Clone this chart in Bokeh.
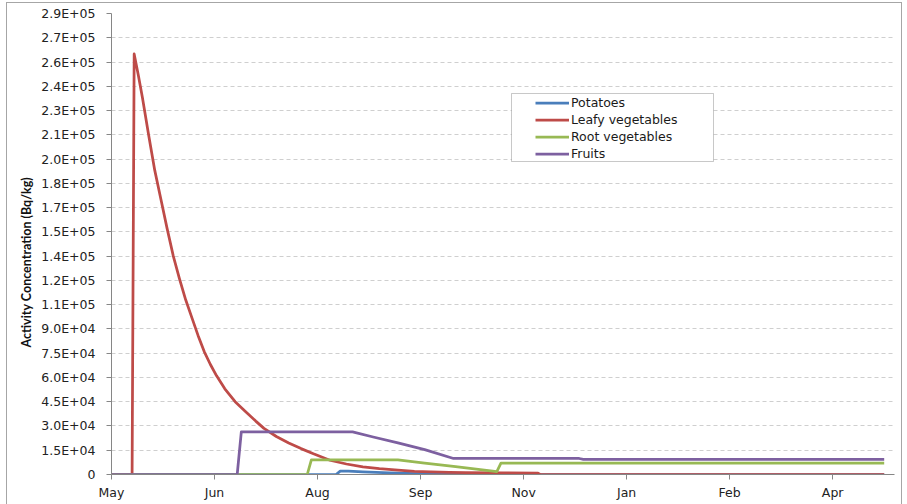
from bokeh.plotting import figure
from bokeh.models import (ColumnDataSource, FixedTicker, Range1d, Legend,
                          LegendItem, BoxAnnotation, Title)
from bokeh.embed import file_html
from bokeh.resources import INLINE

# Axis ticks (days since 1 May) and their labels
x_tick_days = [0, 50, 100, 150, 200, 250, 300, 350]
x_tick_labels = ["May", "Jun", "Aug", "Sep", "Nov", "Jan", "Feb", "Apr"]

y_tick_values = [0, 15000, 30000, 45000, 60000, 75000, 90000, 105000, 120000,
                 135000, 150000, 165000, 180000, 195000, 210000, 225000,
                 240000, 255000, 270000, 285000]
y_tick_labels = ["0", "1.5E+04", "3.0E+04", "4.5E+04", "6.0E+04", "7.5E+04",
                 "9.0E+04", "1.1E+05", "1.2E+05", "1.4E+05", "1.5E+05",
                 "1.7E+05", "1.8E+05", "2.0E+05", "2.1E+05", "2.3E+05",
                 "2.4E+05", "2.6E+05", "2.7E+05", "2.9E+05"]

# Activity concentration (Bq/kg) by food group
potato_days = [0, 109, 111, 115, 122, 135, 148, 160, 180, 200, 375]
potato_vals = [0, 0, 2100, 2100, 1600, 1000, 600, 350, 150, 0, 0]

leafy_days = [0, 10, 11, 13, 15, 18, 21, 24, 27, 30, 33, 36, 39, 42, 45, 48,
              51, 55, 60, 65, 70, 74, 80, 86, 92, 98, 106, 114, 122, 130, 139,
              147, 155, 164, 172, 190, 207, 208, 375]
leafy_vals = [0, 0, 260000, 247000, 233000, 210000, 188000, 170000, 152000,
              135000, 121000, 108000, 97000, 86000, 76000, 68000, 61000,
              53000, 45000, 39000, 33000, 28500, 23500, 19500, 16000, 12800,
              8800, 6500, 4700, 3600, 2700, 2000, 1600, 1350, 1200, 1000, 800,
              0, 0]

root_days = [0, 95, 97, 139, 152, 167, 187, 189, 375]
root_vals = [0, 0, 9000, 9000, 7000, 4900, 1800, 7000, 7000]

fruit_days = [0, 61, 63, 117, 127, 139, 152, 166, 227, 229, 375]
fruit_vals = [0, 0, 26300, 26300, 23200, 19500, 15400, 9900, 9900, 9400, 9400]

series = [
    ("Potatoes", potato_days, potato_vals, "#4A7EBB"),
    ("Leafy vegetables", leafy_days, leafy_vals, "#BE4B48"),
    ("Root vegetables", root_days, root_vals, "#98B954"),
    ("Fruits", fruit_days, fruit_vals, "#7D60A0"),
]

FONT = "DejaVu Sans"

p = figure(width=907, height=504, output_backend="svg", toolbar_location=None,
           x_range=Range1d(0, 380), y_range=Range1d(0, 285000),
           min_border_left=111, min_border_right=13, min_border_top=13,
           min_border_bottom=30)
p.outline_line_color = None
p.background_fill_color = "white"
p.border_fill_alpha = 0

# Thin grey chart-area border, drawn behind the transparent canvas border
_edge = "linear-gradient(#a6a6a6,#a6a6a6)"
p.styles = {
    "background": (f"{_edge} 6px 2px/1px 520px no-repeat, "
                   f"{_edge} 901px 2px/1px 520px no-repeat, "
                   f"{_edge} 6px 2px/896px 1px no-repeat, #ffffff"),
}

# Axes
p.xaxis.ticker = FixedTicker(ticks=x_tick_days)
p.xaxis.major_label_overrides = dict(zip(x_tick_days, x_tick_labels))
p.yaxis.ticker = FixedTicker(ticks=y_tick_values)
p.yaxis.major_label_overrides = dict(zip(y_tick_values, y_tick_labels))
for ax in (p.xaxis, p.yaxis):
    ax.axis_line_color = "#868686"
    ax.axis_line_width = 1
    ax.major_tick_line_color = "#868686"
    ax.major_tick_out = 5
    ax.major_tick_in = 0
    ax.minor_tick_line_color = None
    ax.major_label_text_font = FONT
    ax.major_label_text_font_size = "12.5px"
    ax.major_label_text_color = "#222222"
p.xaxis.major_label_standoff = 5
p.yaxis.major_label_standoff = 11

# Grid
p.xgrid.grid_line_color = None
p.ygrid.ticker = FixedTicker(ticks=y_tick_values)
p.ygrid.grid_line_color = "#cfcfcf"
p.ygrid.grid_line_dash = "4 3"
p.ygrid.grid_line_width = 1

# Y-axis title, anchored from the bottom of the plot area
p.add_layout(Title(text="Activity Concentration (Bq/kg)", align="left",
                   offset=127, standoff=9, text_font="Lato",
                   text_font_style="bold", text_font_size="12.5px",
                   text_color="#111111"), "left")

items = []
for name, days, vals, color in series:
    src = ColumnDataSource(dict(day=days, val=vals))
    r = p.line("day", "val", source=src, line_color=color, line_width=2.75,
               line_join="round")
    items.append(LegendItem(label=name, renderers=[r]))

# Legend frame and legend
p.add_layout(BoxAnnotation(left=511, right=713, top=93, bottom=161,
                           left_units="canvas", right_units="canvas",
                           top_units="canvas", bottom_units="canvas",
                           fill_color="white", fill_alpha=1,
                           line_color="#4a4a4a", line_width=1))
legend = Legend(items=items, location=(424, 312), orientation="vertical",
                glyph_width=34, glyph_height=17, label_height=17, spacing=0,
                padding=0, margin=0, label_standoff=2,
                border_line_alpha=0, background_fill_alpha=0,
                label_text_font=FONT, label_text_font_size="12.5px",
                label_text_color="#1a1a1a")
p.add_layout(legend)

open("out.html", "w").write(file_html(p, INLINE))
